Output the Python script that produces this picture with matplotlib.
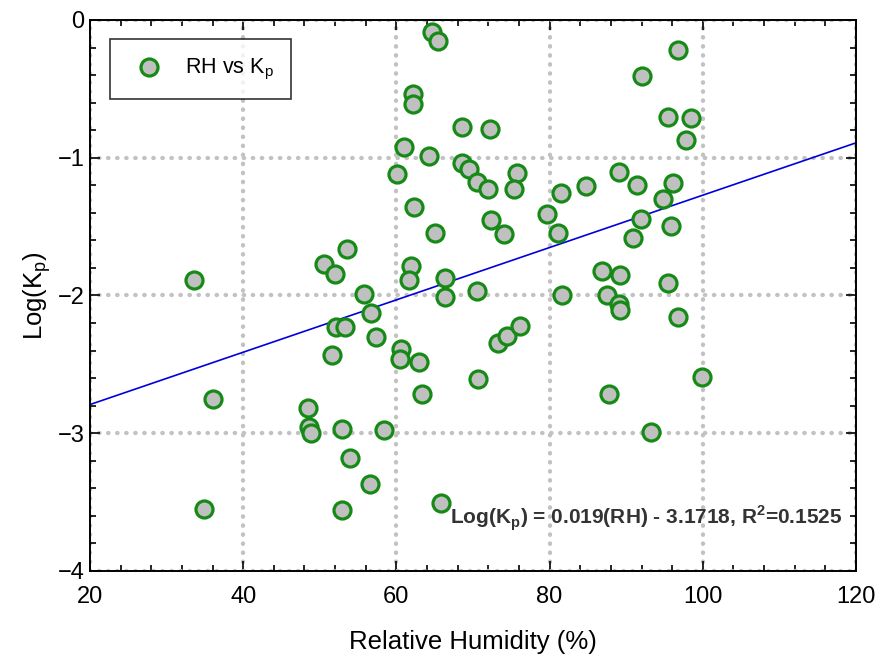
# Log(Kp) against relative humidity with linear fit

import numpy as np
import matplotlib
matplotlib.use("Agg")
import matplotlib.pyplot as plt
from matplotlib.ticker import MultipleLocator

plt.rcParams['font.family'] = ['Liberation Sans', 'DejaVu Sans']
plt.rcParams['mathtext.fontset'] = 'custom'
plt.rcParams['mathtext.rm'] = 'Liberation Sans'
plt.rcParams['mathtext.bf'] = 'Liberation Sans:bold'

# relative humidity (%)
rh = [33.6, 50.5, 53.6, 52.0, 55.8, 64.7, 65.4, 62.2, 62.2, 68.5,
      72.2, 61.0, 64.3, 60.1, 68.6, 69.5, 70.5, 71.9, 75.7, 75.4,
      62.3, 81.5, 84.8, 89.0, 72.3, 74.1, 79.7, 81.1, 65.0, 61.9,
      61.7, 66.3, 66.4, 70.5, 81.6, 86.9, 87.5, 89.2, 96.7, 92.1,
      95.4, 98.4, 97.8, 91.4, 96.1, 94.8, 91.9, 95.8, 90.9, 95.4,
      56.7, 52.1, 53.3, 57.3, 51.6, 36.0, 48.5, 48.6, 48.8, 52.9,
      53.9, 56.6, 34.9, 52.9, 89.0, 89.2, 60.6, 60.5, 63.0, 63.4,
      70.6, 73.2, 74.4, 76.1, 87.7, 58.4, 65.8, 96.8, 99.9, 93.3]

# log10 of partition coefficient
log_kp = [-1.89, -1.77, -1.665, -1.845, -1.99, -0.085, -0.15, -0.54, -0.61, -0.775,
          -0.79, -0.92, -0.985, -1.12, -1.035, -1.085, -1.175, -1.225, -1.11, -1.225,
          -1.355, -1.255, -1.205, -1.105, -1.45, -1.555, -1.41, -1.55, -1.55, -1.785,
          -1.89, -1.87, -2.01, -1.965, -2.0, -1.82, -2.0, -1.85, -0.215, -0.405,
          -0.705, -0.715, -0.87, -1.2, -1.18, -1.3, -1.445, -1.495, -1.585, -1.91,
          -2.13, -2.23, -2.23, -2.30, -2.43, -2.755, -2.82, -2.955, -3.0, -2.97,
          -3.18, -3.37, -3.55, -3.56, -2.06, -2.105, -2.385, -2.46, -2.48, -2.715,
          -2.605, -2.345, -2.295, -2.22, -2.715, -2.975, -3.505, -2.155, -2.59, -2.99]

# fitted line
slope = 0.019
intercept = -3.1718
r2 = 0.1525

fig = plt.figure(figsize=(8.76, 6.57), dpi=100)
ax = fig.add_axes([0.1027, 0.1309, 0.8745, 0.8387])

xf = np.array([20, 120])
ax.plot(xf, slope * xf + intercept, color='#0000dd', lw=1.2, zorder=2)

ax.scatter(rh, log_kp, s=150, facecolor='#c0c0c0', edgecolor='#168a16',
           linewidth=2.3, zorder=3, label='RH vs K$_\\mathregular{p}$')

ax.set_xlim(20, 120)
ax.set_ylim(-4, 0)
ax.xaxis.set_major_locator(MultipleLocator(20))
ax.xaxis.set_minor_locator(MultipleLocator(4))
ax.yaxis.set_major_locator(MultipleLocator(1))
ax.yaxis.set_minor_locator(MultipleLocator(0.2))
ax.tick_params(which='both', direction='in', top=True, right=True, width=1.2,
               labelsize=17)
ax.tick_params(which='major', length=7)
ax.tick_params(which='minor', length=4.5)
ax.tick_params(axis='x', which='major', pad=11)
ax.tick_params(axis='y', which='major', pad=4)
for sp in ax.spines.values():
    sp.set_linewidth(1.4)

ax.grid(True, which='major', color='#c2c2c2', linestyle=(0, (0.1, 2.0)),
        linewidth=3.1, dash_capstyle='round', zorder=1)
ax.set_axisbelow(True)

ax.set_xlabel('Relative Humidity (%)', fontsize=18.5, labelpad=16)
ax.set_ylabel('Log(K$_\\mathregular{p}$)', fontsize=18.5, labelpad=3)

leg = ax.legend(loc='upper left', bbox_to_anchor=(0.026, 0.965), fontsize=15.5,
                frameon=True, fancybox=False, edgecolor='black',
                borderpad=0.8, handletextpad=0.7, borderaxespad=0)
leg.get_frame().set_linewidth(1.2)

ax.text(0.982, 0.095,
        'Log(K$_\\mathbf{p}$) = %.3f(RH) - %.4f, R$^\\mathbf{2}$=%.4f' % (slope, -intercept, r2),
        transform=ax.transAxes, ha='right', va='center', fontsize=15,
        fontweight='bold', color='#333333')

fig.savefig('out.png', dpi=100)
